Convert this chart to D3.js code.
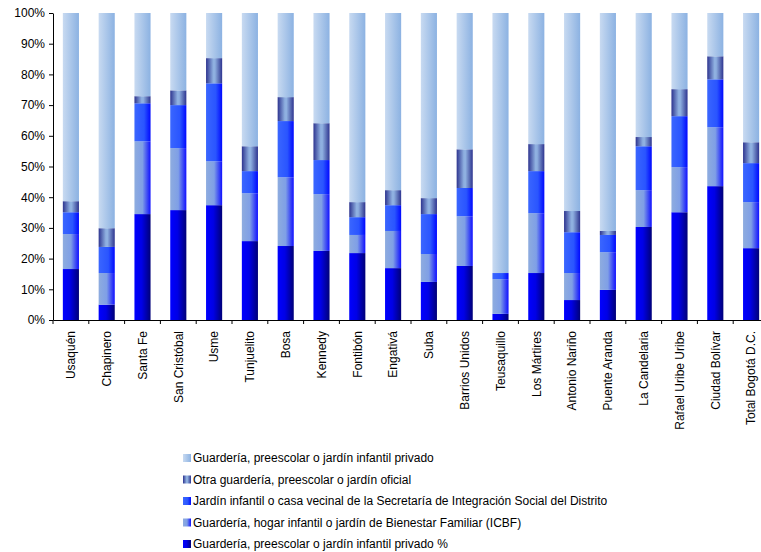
<!DOCTYPE html>
<html>
<head>
<meta charset="utf-8">
<script src="https://cdn.jsdelivr.net/npm/d3@7"></script>
<style>
  html, body { margin: 0; padding: 0; background: #fff; }
  svg { display: block; overflow: hidden; }
  text { font-family: "Liberation Sans", Arial, sans-serif; }
</style>
</head>
<body>
<svg id="chart" width="761" height="552"></svg>
<script>
const categories = ["Usaquén","Chapinero","Santa Fe","San Cristóbal","Usme","Tunjuelito","Bosa","Kennedy","Fontibón","Engativá","Suba","Barrios Unidos","Teusaquillo","Los Mártires","Antonio Nariño","Puente Aranda","La Candelaria","Rafael Uribe Uribe","Ciudad Bolívar","Total Bogotá D.C."];

const seriesNames = [
  "Guardería, preescolar o jardín infantil privado %",
  "Guardería, hogar infantil o jardín de Bienestar Familiar (ICBF)",
  "Jardín infantil o casa vecinal de la Secretaría de Integración Social del Distrito",
  "Otra guardería, preescolar o jardín oficial",
  "Guardería, preescolar o jardín infantil privado"
];

const privadoPct = [16.6, 5.0, 34.5, 35.8, 37.4, 25.7, 24.1, 22.5, 21.8, 16.9, 12.4, 17.6, 2.0, 15.3, 6.5, 9.8, 30.3, 35.1, 43.6, 23.4];
const icbf       = [11.4, 10.3, 23.7, 20.2, 14.3, 15.6, 22.4, 18.5, 5.9, 12.1, 9.1, 16.2, 11.3, 19.5, 8.8, 12.3, 12.0, 14.7, 19.2, 15.0];
const sdis       = [7.1, 8.5, 12.4, 14.0, 25.4, 7.2, 18.3, 11.1, 5.8, 8.4, 13.0, 9.2, 2.0, 13.7, 13.3, 5.6, 14.3, 16.6, 15.6, 12.7];
const otraOficial= [3.6, 6.1, 2.3, 4.8, 8.2, 8.1, 7.8, 12.0, 4.9, 4.9, 5.2, 12.6, 0.0, 8.8, 6.9, 1.3, 3.0, 8.8, 7.5, 6.8];
const privado    = [61.3, 70.1, 27.1, 25.2, 14.7, 43.4, 27.4, 35.9, 61.6, 57.7, 60.3, 44.4, 84.7, 42.7, 64.5, 71.0, 40.4, 24.8, 14.1, 42.1];

const yTicks = [0,10,20,30,40,50,60,70,80,90,100];

const seriesValues = [privadoPct, icbf, sdis, otraOficial, privado];
const keys = ["s0","s1","s2","s3","s4"];
const rows = categories.map((c,i) => {
  const r = {cat: c};
  keys.forEach((k,j) => r[k] = seriesValues[j][i]);
  return r;
});

const gradStops = [
  [[0,"#0000ff"],[0.45,"#0000e6"],[1,"#000078"]],
  [[0,"#8eacdf"],[0.5,"#7f9fe6"],[1,"#1010ff"]],
  [[0,"#3a66ff"],[0.6,"#2a55ff"],[1,"#0008ff"]],
  [[0,"#2e3590"],[0.45,"#8fb0e0"],[0.55,"#8fb0e0"],[1,"#2e3590"]],
  [[0,"#c8daf1"],[1,"#8cb2e2"]]
];

const svg = d3.select("#chart");
const defs = svg.append("defs");
gradStops.forEach((stops,i) => {
  const g = defs.append("linearGradient").attr("id","g"+i)
    .attr("x1","0").attr("x2","1").attr("y1","0").attr("y2","0");
  stops.forEach(s => g.append("stop").attr("offset", s[0]).attr("stop-color", s[1]));
});

const margin = {left: 53, top: 13};
const plotH = 307;
const bandW = 35.8;
const plotW = bandW * categories.length;

const x = d3.scaleBand().domain(categories).range([margin.left, margin.left + plotW]).paddingInner(0).paddingOuter(0);
const y = d3.scaleLinear().domain([0,100]).range([margin.top + plotH, margin.top]);

const stack = d3.stack().keys(keys);
const stacked = stack(rows);

const barW = x.bandwidth() * 0.45;
stacked.forEach((layer,i) => {
  svg.append("g").selectAll("rect").data(layer).join("rect")
    .attr("x", d => x(d.data.cat) + (x.bandwidth() - barW)/2)
    .attr("width", barW)
    .attr("y", d => y(d[1]))
    .attr("height", d => Math.max(0, y(d[0]) - y(d[1])))
    .attr("fill", "url(#g"+i+")");
});

// Y axis
const yAxis = d3.axisLeft(y).tickValues(yTicks).tickFormat(d => d + "%").tickSize(4).tickSizeOuter(0);
const gy = svg.append("g").attr("transform", `translate(${margin.left},0)`).call(yAxis);
gy.select(".domain").attr("stroke","#000");
gy.selectAll(".tick line").attr("stroke","#000");
gy.selectAll(".tick text").attr("font-size", 12).attr("fill","#000").attr("x", -8)
  .style("font-family", '"Liberation Sans", Arial, sans-serif');

// X axis
const xAxis = d3.axisBottom(x).tickSize(0).tickFormat("");
const gx = svg.append("g").attr("transform", `translate(0,${margin.top + plotH})`).call(xAxis);
gx.select(".domain").attr("stroke","#000");
gx.selectAll(".tick").remove();
const boundaries = categories.map(c => x(c)).concat([x(categories[categories.length-1]) + x.bandwidth()]);
gx.selectAll("line.bt").data(boundaries).join("line").attr("class","bt")
  .attr("x1", d => d).attr("x2", d => d).attr("y1", 0).attr("y2", 4).attr("stroke","#000");

svg.append("g").selectAll("text").data(categories).join("text")
  .attr("transform", d => `translate(${x(d) + x.bandwidth()/2 + 4.3},${margin.top + plotH + 11}) rotate(-90)`)
  .attr("text-anchor","end")
  .attr("font-size", 12)
  .attr("fill","#000")
  .text(d => d);

// Legend
const legendOrder = [4,3,2,1,0];
const lg = svg.append("g");
legendOrder.forEach((si, r) => {
  const yy = 458 + r * 21.5;
  lg.append("rect").attr("x", 183).attr("y", yy - 4).attr("width", 8).attr("height", 8)
    .attr("fill", "url(#g"+si+")");
  lg.append("text").attr("x", 193).attr("y", yy + 4.3).attr("font-size", 12).attr("fill","#000")
    .text(seriesNames[si]);
});
</script>
</body>
</html>
